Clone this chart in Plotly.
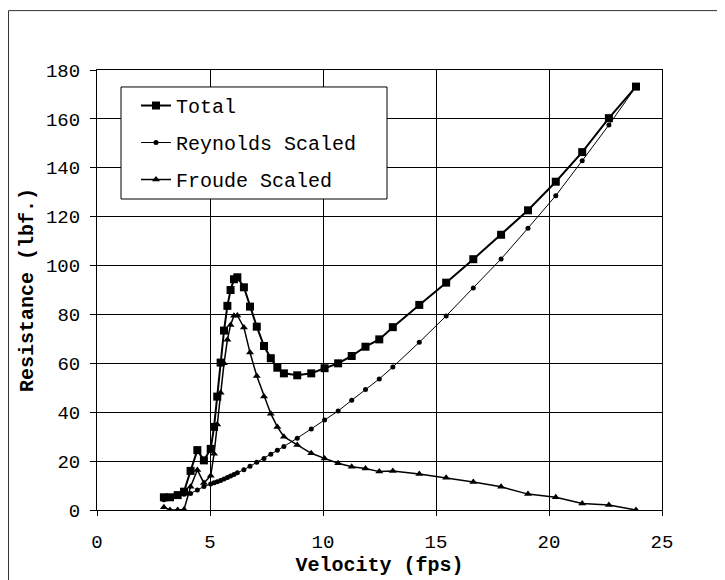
import plotly.graph_objects as go

# velocity samples (fps)
velocity = [2.96, 3.23, 3.57, 3.85, 4.14, 4.44, 4.73, 5.03, 5.18, 5.32, 5.47, 5.62,
            5.77, 5.91, 6.06, 6.21, 6.5, 6.77, 7.07, 7.39, 7.69, 7.98, 8.27, 8.86,
            9.48, 10.07, 10.67, 11.27, 11.88, 12.49, 13.09, 14.26, 15.45, 16.65,
            17.88, 19.07, 20.3, 21.47, 22.65, 23.85]

total = [5.2, 5.2, 6.1, 7.5, 16.0, 24.5, 20.3, 25.0, 34.0, 46.4, 60.3, 73.4,
         83.5, 90.0, 94.4, 95.2, 91.1, 83.2, 75.0, 67.1, 62.1, 58.2, 55.9, 55.1,
         55.9, 58.0, 60.0, 63.0, 66.8, 69.8, 74.8, 83.9, 93.0, 102.6,
         112.6, 122.6, 134.3, 146.4, 160.3, 173.2]

reynolds = [4.2, 4.8, 5.6, 6.4, 6.8, 8.2, 9.6, 10.6, 11.1, 11.6, 12.1, 12.7,
            13.3, 13.9, 14.5, 15.2, 16.5, 17.9, 19.5, 21.1, 22.8, 24.4, 26.0, 29.4,
            33.1, 36.8, 40.5, 44.9, 49.3, 53.6, 58.5, 68.6, 79.4, 90.8,
            102.7, 115.3, 128.6, 142.9, 157.5, 173.2]

froude = [1.1, 0.0, 0.0, 0.2, 9.5, 16.4, 11.0, 14.0, 23.0, 35.0, 48.0, 60.0,
          69.6, 75.7, 79.5, 79.6, 74.7, 64.4, 54.8, 46.4, 39.4, 34.0, 30.0, 26.6,
          23.2, 21.1, 19.1, 17.7, 17.0, 15.7, 16.0, 14.7, 13.2, 11.5,
          9.5, 6.5, 5.2, 2.7, 2.0, 0.0]

x_ticks = [0, 5, 10, 15, 20, 25]
y_ticks = [0, 20, 40, 60, 80, 100, 120, 140, 160, 180]

MONO = "Liberation Mono, Courier New, monospace"

fig = go.Figure()

fig.add_trace(go.Scatter(
    x=velocity, y=total, name="Total", legendgroup="a",
    mode="lines+markers",
    line=dict(color="black", width=2),
    marker=dict(symbol="square", size=8, color="black"),
))
fig.add_trace(go.Scatter(
    x=velocity, y=reynolds, name="Reynolds Scaled", legendgroup="b",
    mode="lines+markers",
    line=dict(color="black", width=1),
    marker=dict(symbol="circle", size=5, color="black"),
))
fig.add_trace(go.Scatter(
    x=velocity, y=froude, name="Froude Scaled", legendgroup="c",
    mode="lines+markers",
    line=dict(color="black", width=1.5),
    marker=dict(symbol="triangle-up", size=7, color="black"),
))

# outer chart-area frame (left and top edges visible in the scan)
fig.add_shape(type="line", xref="paper", yref="paper",
              x0=-0.1566, x1=-0.1566, y0=-0.3, y1=1.135,
              line=dict(color="#333", width=1))
fig.add_shape(type="line", xref="paper", yref="paper",
              x0=-0.1566, x1=1.3, y0=1.135, y1=1.135,
              line=dict(color="#333", width=1))

# legend box, wider than plotly's auto-sized one
fig.add_shape(type="rect", xref="paper", yref="paper", layer="above",
              x0=0.0425, x1=0.5133, y0=0.7068, y1=0.9614,
              fillcolor="white", line=dict(color="black", width=1))

fig.update_layout(
    width=725, height=580,
    margin=dict(l=89, r=71, t=62, b=78),
    paper_bgcolor="white", plot_bgcolor="white",
    font=dict(family=MONO, color="black", size=19),
    showlegend=True,
    legend=dict(
        x=0.069, y=0.9636, xanchor="left", yanchor="top",
        bgcolor="rgba(0,0,0,0)", borderwidth=0,
        font=dict(family=MONO, size=20, color="black"),
        tracegroupgap=8, itemwidth=30,
    ),
    xaxis=dict(
        range=[0, 25], tickvals=x_ticks,
        showgrid=True, gridcolor="black", gridwidth=1,
        showline=True, linecolor="black", linewidth=1, mirror=True,
        ticks="outside", ticklen=5, tickcolor="black",
        ticklabelstandoff=9,
        zeroline=False,
        tickfont=dict(family=MONO, size=19),
        title=dict(text="Velocity (fps)", standoff=4,
                   font=dict(family=MONO, size=20, weight="bold")),
    ),
    yaxis=dict(
        range=[0, 180], tickvals=y_ticks,
        showgrid=True, gridcolor="black", gridwidth=1,
        showline=True, linecolor="black", linewidth=1, mirror=True,
        ticks="outside", ticklen=6, tickcolor="black",
        ticklabelstandoff=6,
        zeroline=False,
        tickfont=dict(family=MONO, size=19),
        title=dict(text="Resistance (lbf.)", standoff=6,
                   font=dict(family=MONO, size=20, weight="bold")),
    ),
)

fig.write_html("out.html")
